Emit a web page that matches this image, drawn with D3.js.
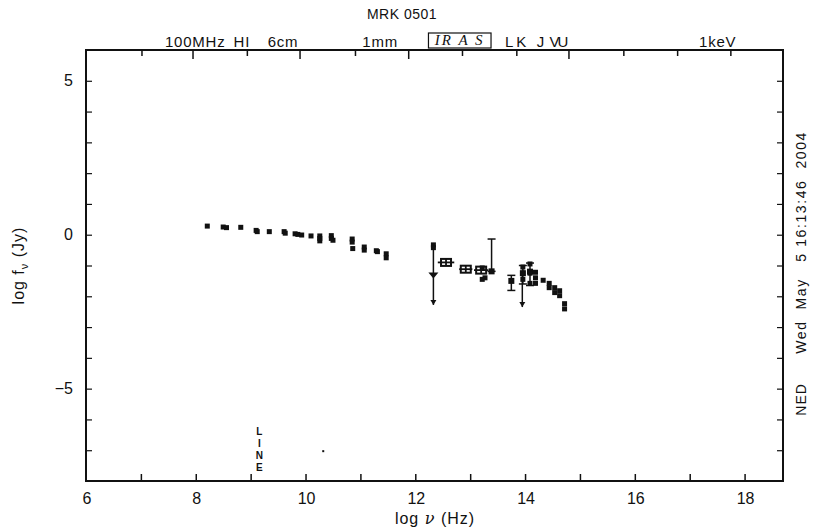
<!DOCTYPE html>
<html>
<head>
<meta charset="utf-8">
<script src="https://cdn.jsdelivr.net/npm/d3@7"></script>
<style>
  body { margin: 0; background: #fff; }
  svg { font-family: "Liberation Sans", Arial, sans-serif; }
</style>
</head>
<body>
<div id="chart"></div>
<script>
// plain detections (log nu, log f)
const detNu = [8.21, 8.50, 8.56, 8.82, 9.10, 9.12, 9.34, 9.61, 9.63, 9.81, 9.86, 9.93, 10.10,
  10.26, 10.26, 10.26, 10.47, 10.47, 10.50, 10.85, 10.85, 10.86, 11.07, 11.07, 11.29, 11.31, 11.47, 11.47,
  12.33, 12.33, 13.22, 13.27, 13.22,
  13.96, 13.96, 13.96, 14.09, 14.09, 14.09, 14.19, 14.19, 14.19, 14.33, 14.44, 14.44, 14.54, 14.54,
  14.63, 14.63, 14.72, 14.72, 10.35];
const detF = [0.28, 0.25, 0.23, 0.24, 0.14, 0.10, 0.10, 0.10, 0.05, 0.03, 0.01, -0.01, -0.04,
  -0.04, -0.12, -0.20, -0.03, -0.12, -0.18, -0.14, -0.24, -0.45, -0.40, -0.50, -0.52, -0.55, -0.62, -0.75,
  -0.33, -0.42, -1.08, -1.40, -1.45,
  -1.05, -1.25, -1.45, -0.95, -1.25, -1.58, -1.22, -1.40, -1.58, -1.48, -1.58, -1.72, -1.72, -1.88,
  -1.82, -1.98, -2.24, -2.41, -7.08];

// points with horizontal bars (IRAS)
const hbarNu = [12.56, 12.92, 13.20];
const hbarF = [-0.90, -1.12, -1.15];
const hbarDx = [0.15, 0.12, 0.13];

// vertical error bars with caps
const barNu = [13.39, 13.75, 13.96, 14.09];
const barLo = [-1.19, -1.81, -1.60, -1.65];
const barHi = [-0.14, -1.32, -1.00, -0.92];
const barF = [-1.19, -1.50, -1.25, -1.20];

// upper limits (from, arrow end)
const limNu = [12.33, 13.95];
const limF = [-0.36, -1.26];
const limTo = [-2.28, -2.35];
const limMark = [-1.29, null];

// band labels along the top
const topLabels = ["100MHz", "HI", "6cm", "1mm", "L", "K", "J", "VU", "1keV"];
const topLabelNu = [7.99, 8.84, 9.59, 11.36, 13.72, 13.94, 14.29, 14.60, 17.51];
const topTickNu = [7.02, 7.95, 8.94, 9.90, 10.91, 11.88, 12.86, 13.85, 14.80, 15.80, 16.78, 17.75];
const topTickLong = [7.95, 9.90, 11.88, 14.80];

const xTicks = [6, 8, 10, 12, 14, 16, 18];
const yTicks = [-5, 0, 5];

const W = 816, H = 531;
const m = { left: 86, right: 33, top: 50, bottom: 50 };

const svg = d3.select("#chart").append("svg").attr("width", W).attr("height", H);

const x = d3.scaleLinear().domain([6, 18.7]).range([m.left, W - m.right]);
const y = d3.scaleLinear().domain([-8, 6]).range([H - m.bottom, m.top]);

// frame
svg.append("rect")
  .attr("x", x(6)).attr("y", y(6))
  .attr("width", x(18.7) - x(6)).attr("height", y(-8) - y(6))
  .attr("fill", "none").attr("stroke", "#111").attr("stroke-width", 2);

// bottom axis
svg.append("g")
  .attr("transform", "translate(0," + y(-8) + ")")
  .call(d3.axisBottom(x).tickValues(d3.range(7, 19)).tickSize(-7).tickFormat(""))
  .call(g => g.select(".domain").remove())
  .call(g => g.selectAll("line").attr("stroke", "#111").attr("stroke-width", 1.5));
svg.append("g").selectAll("text").data(xTicks).enter().append("text")
  .attr("x", d => x(d) + 1).attr("y", y(-8) + 23)
  .attr("text-anchor", "middle").style("font-size", "16px").attr("fill", "#111")
  .text(d => d);

// top axis
svg.append("g").selectAll("line").data(topTickNu).enter().append("line")
  .attr("x1", d => x(d)).attr("x2", d => x(d))
  .attr("y1", y(6)).attr("y2", d => y(6) + (topTickLong.includes(d) ? 9 : 6))
  .attr("stroke", "#111").attr("stroke-width", 1.5);

// left axis
svg.append("g")
  .attr("transform", "translate(" + x(6) + ",0)")
  .call(d3.axisLeft(y).tickValues(d3.range(-7, 6)).tickSize(-6).tickFormat(""))
  .call(g => g.select(".domain").remove())
  .call(g => g.selectAll("line").attr("stroke", "#111").attr("stroke-width", 1.2));
svg.append("g").selectAll("text").data(yTicks).enter().append("text")
  .attr("x", x(6) - 13).attr("y", d => y(d) + 5)
  .attr("text-anchor", "end").style("font-size", "16px").attr("fill", "#111")
  .text(d => d < 0 ? "\u2212" + Math.abs(d) : d);

// right axis
svg.append("g")
  .attr("transform", "translate(" + x(18.7) + ",0)")
  .call(d3.axisRight(y).tickValues(d3.range(-7, 6)).tickSize(-6).tickFormat(""))
  .call(g => g.select(".domain").remove())
  .call(g => g.selectAll("line").attr("stroke", "#111").attr("stroke-width", 1.2));

// titles
svg.append("text").attr("x", 402).attr("y", 19).attr("text-anchor", "middle")
  .style("font-size", "14px").style("letter-spacing", "0.5px").attr("fill", "#111").text("MRK 0501");
svg.append("text").attr("x", 435).attr("y", 524).attr("text-anchor", "middle")
  .style("font-size", "16px").style("letter-spacing", "1px").attr("fill", "#111")
  .html("log <tspan font-family='DejaVu Serif' font-style='italic'>\u03bd</tspan> (Hz)");
svg.append("text")
  .attr("transform", "translate(24," + y(-1) + ") rotate(-90)")
  .attr("text-anchor", "middle").style("font-size", "16px").style("letter-spacing", "1px").attr("fill", "#111")
  .html("log f<tspan font-size='11px' dy='4'>\u03bd</tspan><tspan dy='-4'> (Jy)</tspan>");
svg.append("text")
  .attr("transform", "translate(806," + y(-5.35) + ") rotate(-90)")
  .attr("text-anchor", "middle").style("font-size", "14px").style("letter-spacing", "1px").attr("fill", "#111")
  .text("NED");
svg.append("text")
  .attr("transform", "translate(806," + y(-0.25) + ") rotate(-90)")
  .attr("text-anchor", "middle").style("font-size", "14px").style("letter-spacing", "1.6px").attr("fill", "#111")
  .attr("xml:space", "preserve")
  .text("Wed  May   5 16:13:46  2004");

// band labels
svg.append("g").selectAll("text").data(topLabels).enter().append("text")
  .attr("x", (d, i) => x(topLabelNu[i])).attr("y", 47)
  .attr("text-anchor", "middle").style("font-size", "15px").attr("fill", "#111")
  .style("letter-spacing", d => d == "VU" ? "-2px" : "0.8px")
  .text(d => d);
svg.append("rect").attr("x", x(12.24)).attr("y", 33).attr("width", x(13.38) - x(12.24)).attr("height", 15)
  .attr("fill", "#fff").attr("stroke", "#111").attr("stroke-width", 1.2);
svg.append("text").attr("x", x(12.81)).attr("y", 45).attr("text-anchor", "middle")
  .style("font-family", "'Liberation Serif', serif").style("font-style", "italic")
  .style("font-size", "15px").style("letter-spacing", "2px").attr("fill", "#111").text("IR A S");

// LINE marker
svg.append("g").selectAll("text").data(["L", "I", "N", "E"]).enter().append("text")
  .attr("x", x(9.16)).attr("y", (d, i) => 435 + i * 12)
  .attr("text-anchor", "middle").style("font-size", "10px").style("font-weight", "bold")
  .attr("fill", "#111").text(d => d);

const ink = "#111";

// upper limits
limNu.forEach((v, i) => {
  svg.append("line").attr("x1", x(v)).attr("x2", x(v)).attr("y1", y(limF[i])).attr("y2", y(limTo[i]))
    .attr("stroke", ink).attr("stroke-width", 1.5);
  svg.append("path")
    .attr("d", "M" + (x(v) - 3) + "," + (y(limTo[i]) - 5) + "L" + (x(v) + 3) + "," + (y(limTo[i]) - 5) + "L" + x(v) + "," + y(limTo[i]) + "Z")
    .attr("fill", ink);
  if (limMark[i] !== null) {
    svg.append("path")
      .attr("d", "M" + (x(v) - 5) + "," + (y(limMark[i]) - 2) + "L" + (x(v) + 5) + "," + (y(limMark[i]) - 2) + "L" + x(v) + "," + (y(limMark[i]) + 4) + "Z")
      .attr("fill", ink);
  }
});

// vertical bars
barNu.forEach((v, i) => {
  svg.append("line").attr("x1", x(v)).attr("x2", x(v)).attr("y1", y(barLo[i])).attr("y2", y(barHi[i]))
    .attr("stroke", ink).attr("stroke-width", 1.5);
  [barLo[i], barHi[i]].forEach(e => {
    svg.append("line").attr("x1", x(v) - 4).attr("x2", x(v) + 4).attr("y1", y(e)).attr("y2", y(e))
      .attr("stroke", ink).attr("stroke-width", 1.5);
  });
  svg.append("rect").attr("x", x(v) - 3).attr("y", y(barF[i]) - 3).attr("width", 6).attr("height", 6).attr("fill", ink);
});

// horizontal bar points
hbarNu.forEach((v, i) => {
  svg.append("line").attr("x1", x(v - hbarDx[i])).attr("x2", x(v + hbarDx[i])).attr("y1", y(hbarF[i])).attr("y2", y(hbarF[i]))
    .attr("stroke", ink).attr("stroke-width", 1.8);
  svg.append("rect").attr("x", x(v) - 5).attr("y", y(hbarF[i]) - 3.5).attr("width", 10).attr("height", 7)
    .attr("fill", "none").attr("stroke", ink).attr("stroke-width", 2);
  svg.append("line").attr("x1", x(v)).attr("x2", x(v)).attr("y1", y(hbarF[i]) - 3.5).attr("y2", y(hbarF[i]) + 3.5)
    .attr("stroke", ink).attr("stroke-width", 1.8);
});

// detections
svg.append("g").selectAll("rect").data(detNu).enter().append("rect")
  .attr("x", d => x(d) - 2.5)
  .attr("y", (d, i) => y(detF[i]) - 2.5)
  .attr("width", (d, i) => i == detNu.length - 1 ? 2 : 5)
  .attr("height", (d, i) => i == detNu.length - 1 ? 2 : 5)
  .attr("fill", ink);
</script>
</body>
</html>
